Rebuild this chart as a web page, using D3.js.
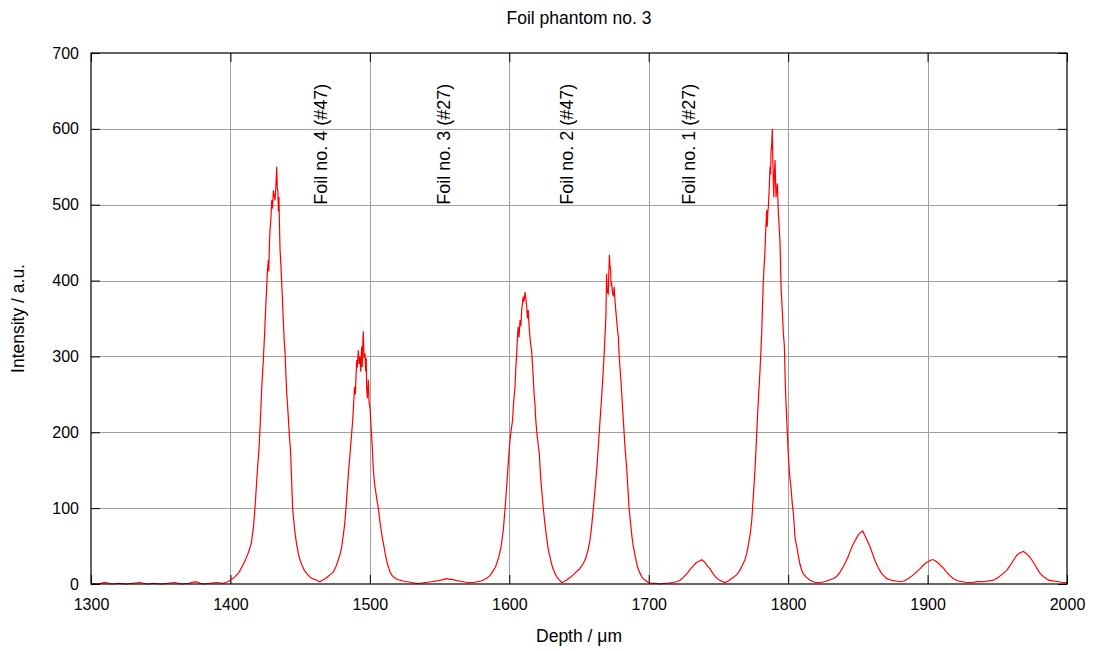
<!DOCTYPE html>
<html>
<head>
<meta charset="utf-8">
<script src="https://cdn.jsdelivr.net/npm/d3@7"></script>
<style>
  body { margin: 0; background: #fff; }
  svg { display: block; }
  text { font-family: "Liberation Sans", Arial, sans-serif; fill: #000; }
</style>
</head>
<body>
<svg id="chart" width="1099" height="651"></svg>
<script>
// ---- data ----
const title = "Foil phantom no. 3";
const xLabel = "Depth / μm";
const yLabel = "Intensity / a.u.";
const xTicks = [1300, 1400, 1500, 1600, 1700, 1800, 1900, 2000];
const yTicks = [0, 100, 200, 300, 400, 500, 600, 700];

const depth = [
1300,1305,1310,1315,1320,1325,1330,1335,1340,1345,1350,1355,1360,1365,1370,1375,1380,1385,1390,1395,1398,
1400,1403,1406,1409,1411,1413,1415,1416.5,1417.6,1419,1420.7,1421.7,1422.5,1423.6,1424.5,1425.2,1426,1426.6,1427.2,1427.5,1428,1428.4,1429,1429.6,1430.2,1430.8,1431.4,1432,1432.6,1433.2,1433.6,1434,1434.4,1434.8,1435.2,1435.6,1436.2,1436.8,1437.4,1438,1438.6,1439.2,1439.8,1440.4,1441,1441.5,1442.3,1443.2,1444,1444.6,1445.5,1446.5,1447.5,1448.7,1450,1451.5,1453,1454.7,1456.5,1458,1460,1462,1464,1466,1468,1470,1472,1473.8,1475.5,1477,1478.5,1479.8,1481,1482,1482.9,1484,1485,1485.8,1486.8,1487.7,1488.1,1489,1489.6,1490.5,1491,1491.7,1492.3,1492.9,1493.5,1494.1,1494.5,1495,1495.3,1495.8,1496.5,1497,1497.4,1497.7,1498.2,1498.9,1499.4,1500.1,1500.8,1501.6,1502.5,1503.5,1504.5,1505.3,1506.1,1507,1508,1508.8,1509.7,1511,1512.5,1514.4,1516,1518,1520,1521.6,1524,1527,1530,1533,1536,1540,1544,1548,1551,1553,1555,1557,1559,1561,1564,1567,1570,1574,1577,1580,1583.8,1586,1588,1590,1591,1592.5,1594,1595.7,1597,1598.1,1599.2,1600.5,1601.5,1602.4,1602.9,1604.1,1604.7,1605.3,1606,1606.4,1607,1607.7,1608.3,1608.9,1609.4,1610,1610.6,1611.3,1611.9,1612.5,1613,1613.6,1614.2,1614.8,1615.4,1616,1616.6,1617.2,1617.8,1618.4,1619,1620,1621.5,1622.5,1623.5,1624.4,1625.5,1626.5,1628,1629.5,1631,1632.8,1634.5,1636,1637.6,1639,1641,1643,1645.9,1648,1650,1653.1,1655,1656.5,1657.9,1659,1660.3,1661.5,1662.7,1663.8,1665.1,1666,1667,1667.8,1668.6,1669.3,1669.8,1670.3,1671,1671.4,1671.8,1672.2,1672.7,1673,1673.4,1674,1674.6,1675.2,1675.8,1676.4,1677,1677.6,1678.2,1679,1680,1681,1681.8,1683,1684.3,1685.1,1685.9,1687,1688,1689,1690.5,1692,1693.8,1695.5,1697.5,1699.8,1702,1705,1708,1711,1714,1717,1720,1722.5,1725,1728,1730,1732,1734,1736,1738,1740,1742,1744,1746,1748,1750,1752,1754.7,1757,1760,1763,1765,1767,1769,1770.3,1771.5,1772.8,1773.9,1775,1776.2,1777,1777.9,1778.7,1779.5,1780.3,1781,1781.6,1782.2,1782.8,1783.4,1784,1784.6,1785,1785.4,1785.8,1786.4,1787,1787.4,1787.7,1788.2,1788.7,1789,1789.4,1789.7,1790.1,1790.6,1791,1791.3,1791.8,1792.3,1792.7,1793,1793.6,1794.2,1794.9,1795.4,1795.9,1796.6,1797.3,1798,1799,1800,1800.8,1801.4,1802,1803,1803.8,1804.9,1805.5,1806.2,1807.5,1808.5,1809.7,1811,1813,1815.7,1818,1820,1822.9,1826,1829,1832,1834.8,1837,1839,1841,1843,1844.4,1846,1848,1850.4,1852,1853.5,1855,1857,1858.7,1860.5,1862.5,1864.7,1867,1870.7,1874,1877,1880.3,1883,1886,1889.8,1892,1894.5,1897,1899,1901,1903,1904.2,1906,1908,1909.5,1911.4,1913.5,1915.5,1918.5,1922,1925,1928.1,1932,1936,1940,1944,1947.2,1950,1953,1956.8,1959,1961.5,1964,1966,1968.7,1971,1973,1974.7,1977,1979,1980.7,1983,1986.7,1990,1994,1997.5,2000
];
const intensity = [
1,0,2,0,1,0,1,2,0,1,0,1,2,0,1,3,0,1,2,1,3,
5,9,15,25,33,42,54,75,100,140,185,225,260,295,330,360,392,415,427,412,450,467,480,506,495,519,512,506,525,550,522,519,491,510,470,440,420,396,370,344,320,304,275,251,235,220,195,172,130,100,82,65,52,40,31,24,18,14,10,8,6,5,3,5,7,10,13,16,22,30,38,49,65,80,100,130,155,172,195,216,229,260,250,295,285,308,290,300,280,313,286,320,333,298,304,280,298,260,245,269,240,232,210,185,150,130,118,108,100,85,72,62,54,40,27,16,11,8,6,5,4,3,2,1,1,2,3,4,5,6,7,6,6,5,4,3,2,2,3,4,7.5,11,16,22,27,36,48,71,100,128,158,190,205,216,234,260,285,304,330,339,325,348,340,361,370,379,372,385,376,366,350,361,340,326,315,308,290,272,250,238,216,195,172,140,118,100,80,65,45,33,22,14,8,5,2,3,5,8,12,16,19,27,35,45,58,75,100,125,150,180,216,240,270,295,326,352,409,385,383,410,434,420,414,395,396,385,379,392,374,360,348,335,326,295,270,240,216,180,150,125,100,80,62,49,35,22,14,8,5,2,1,1,0,1,1,2,3,5,9,15,20,24,28,30,32,29,24,20,14,9,6,4,2,4,8,12,17,24,32,40,52,66,84,115,150,180,216,245,270,300,330,365,400,420,440,470,493,471,490,497,520,550,540,568,580,600,560,528,510,540,559,530,510,520,528,505,489,470,449,392,375,357,330,313,260,216,175,150,137,128,105,93,62,55,49,35,26,18,13,9,5,3,2,2,3,5,7,10,15,21,28,36,43,50,57,65,68,70,64,56,49,40,30,21,14,7,5,4,3,4,7,12,16,20,25,28,30,32,32,30,27,24,21,16,12,7,4,3,2,2,3,3,4,5,8,12,18,24,31,38,41,43,40,36,32,25,19,14,10,5,4,3,2,2
];

const foilLabels = ["Foil no. 4 (#47)", "Foil no. 3 (#27)", "Foil no. 2 (#47)", "Foil no. 1 (#27)"];
const foilLabelDepth = [1465, 1553, 1641, 1729];
const foilLabelLevel = 500;

// ---- chart ----
const svg = d3.select("#chart");
const W = 1099, H = 651;
const margin = {left: 91, right: 32, top: 53, bottom: 67};
const x = d3.scaleLinear().domain([1300, 2000]).range([margin.left, W - margin.right]);
const y = d3.scaleLinear().domain([0, 700]).range([H - margin.bottom, margin.top]);

const data = depth.map((d, i) => ({d, v: intensity[i]}));

// grid
const grid = svg.append("g").attr("shape-rendering", "crispEdges");
grid.selectAll(".gx").data(xTicks.slice(1, -1)).join("line")
  .attr("x1", d => Math.round(x(d)) + 0.5).attr("x2", d => Math.round(x(d)) + 0.5)
  .attr("y1", y(700)).attr("y2", y(0))
  .attr("stroke", "#a0a0a0").attr("stroke-width", 1);
grid.selectAll(".gy").data(yTicks.slice(1, -1)).join("line")
  .attr("y1", d => Math.round(y(d)) + 0.5).attr("y2", d => Math.round(y(d)) + 0.5)
  .attr("x1", x(1300)).attr("x2", x(2000))
  .attr("stroke", "#a0a0a0").attr("stroke-width", 1);

// axes (inward ticks, gnuplot style)
const tickLen = 9;
const xAxisB = d3.axisBottom(x).tickValues(xTicks).tickSize(-tickLen).tickPadding(15).tickFormat(d3.format("d"));
const xAxisT = d3.axisTop(x).tickValues(xTicks).tickSize(-tickLen).tickFormat("");
const yAxisL = d3.axisLeft(y).tickValues(yTicks).tickSize(-tickLen).tickPadding(12).tickFormat(d3.format("d"));
const yAxisR = d3.axisRight(y).tickValues(yTicks).tickSize(-tickLen).tickFormat("");

function styleAxis(g) {
  g.select(".domain").remove();
  g.selectAll(".tick line").attr("stroke", "#000");
  g.selectAll("text").attr("font-size", 16).attr("font-family", "Liberation Sans, Arial, sans-serif").attr("fill", "#000");
}
svg.append("g").attr("transform", `translate(0,${y(0)})`).call(xAxisB).call(styleAxis);
svg.append("g").attr("transform", `translate(0,${y(700)})`).call(xAxisT).call(styleAxis);
svg.append("g").attr("transform", `translate(${x(1300)},0)`).call(yAxisL).call(styleAxis);
svg.append("g").attr("transform", `translate(${x(2000)},0)`).call(yAxisR).call(styleAxis);

// data line
svg.append("path").datum(data)
  .attr("fill", "none").attr("stroke", "#ff0000").attr("stroke-width", 1.2)
  .attr("stroke-linejoin", "miter")
  .attr("d", d3.line().x(d => x(d.d)).y(d => y(d.v)));

// frame
svg.append("rect")
  .attr("x", x(1300)).attr("y", y(700))
  .attr("width", x(2000) - x(1300)).attr("height", y(0) - y(700))
  .attr("fill", "none").attr("stroke", "#000").attr("stroke-width", 1.2);

// foil labels
svg.selectAll(".foil").data(foilLabels).join("text")
  .attr("transform", (d, i) => `translate(${x(foilLabelDepth[i])},${y(foilLabelLevel)}) rotate(-90)`)
  .attr("dy", "0.35em")
  .attr("text-anchor", "start")
  .attr("font-size", 18)
  .text(d => d);

// title & axis labels
svg.append("text").attr("x", (x(1300) + x(2000)) / 2).attr("y", 24)
  .attr("text-anchor", "middle").attr("font-size", 17.5).text(title);
svg.append("text").attr("x", (x(1300) + x(2000)) / 2).attr("y", 642)
  .attr("text-anchor", "middle").attr("font-size", 17.5).text(xLabel);
svg.append("text").attr("transform", `translate(24,${(y(0) + y(700)) / 2}) rotate(-90)`)
  .attr("text-anchor", "middle").attr("font-size", 17.5).text(yLabel);
</script>
</body>
</html>
